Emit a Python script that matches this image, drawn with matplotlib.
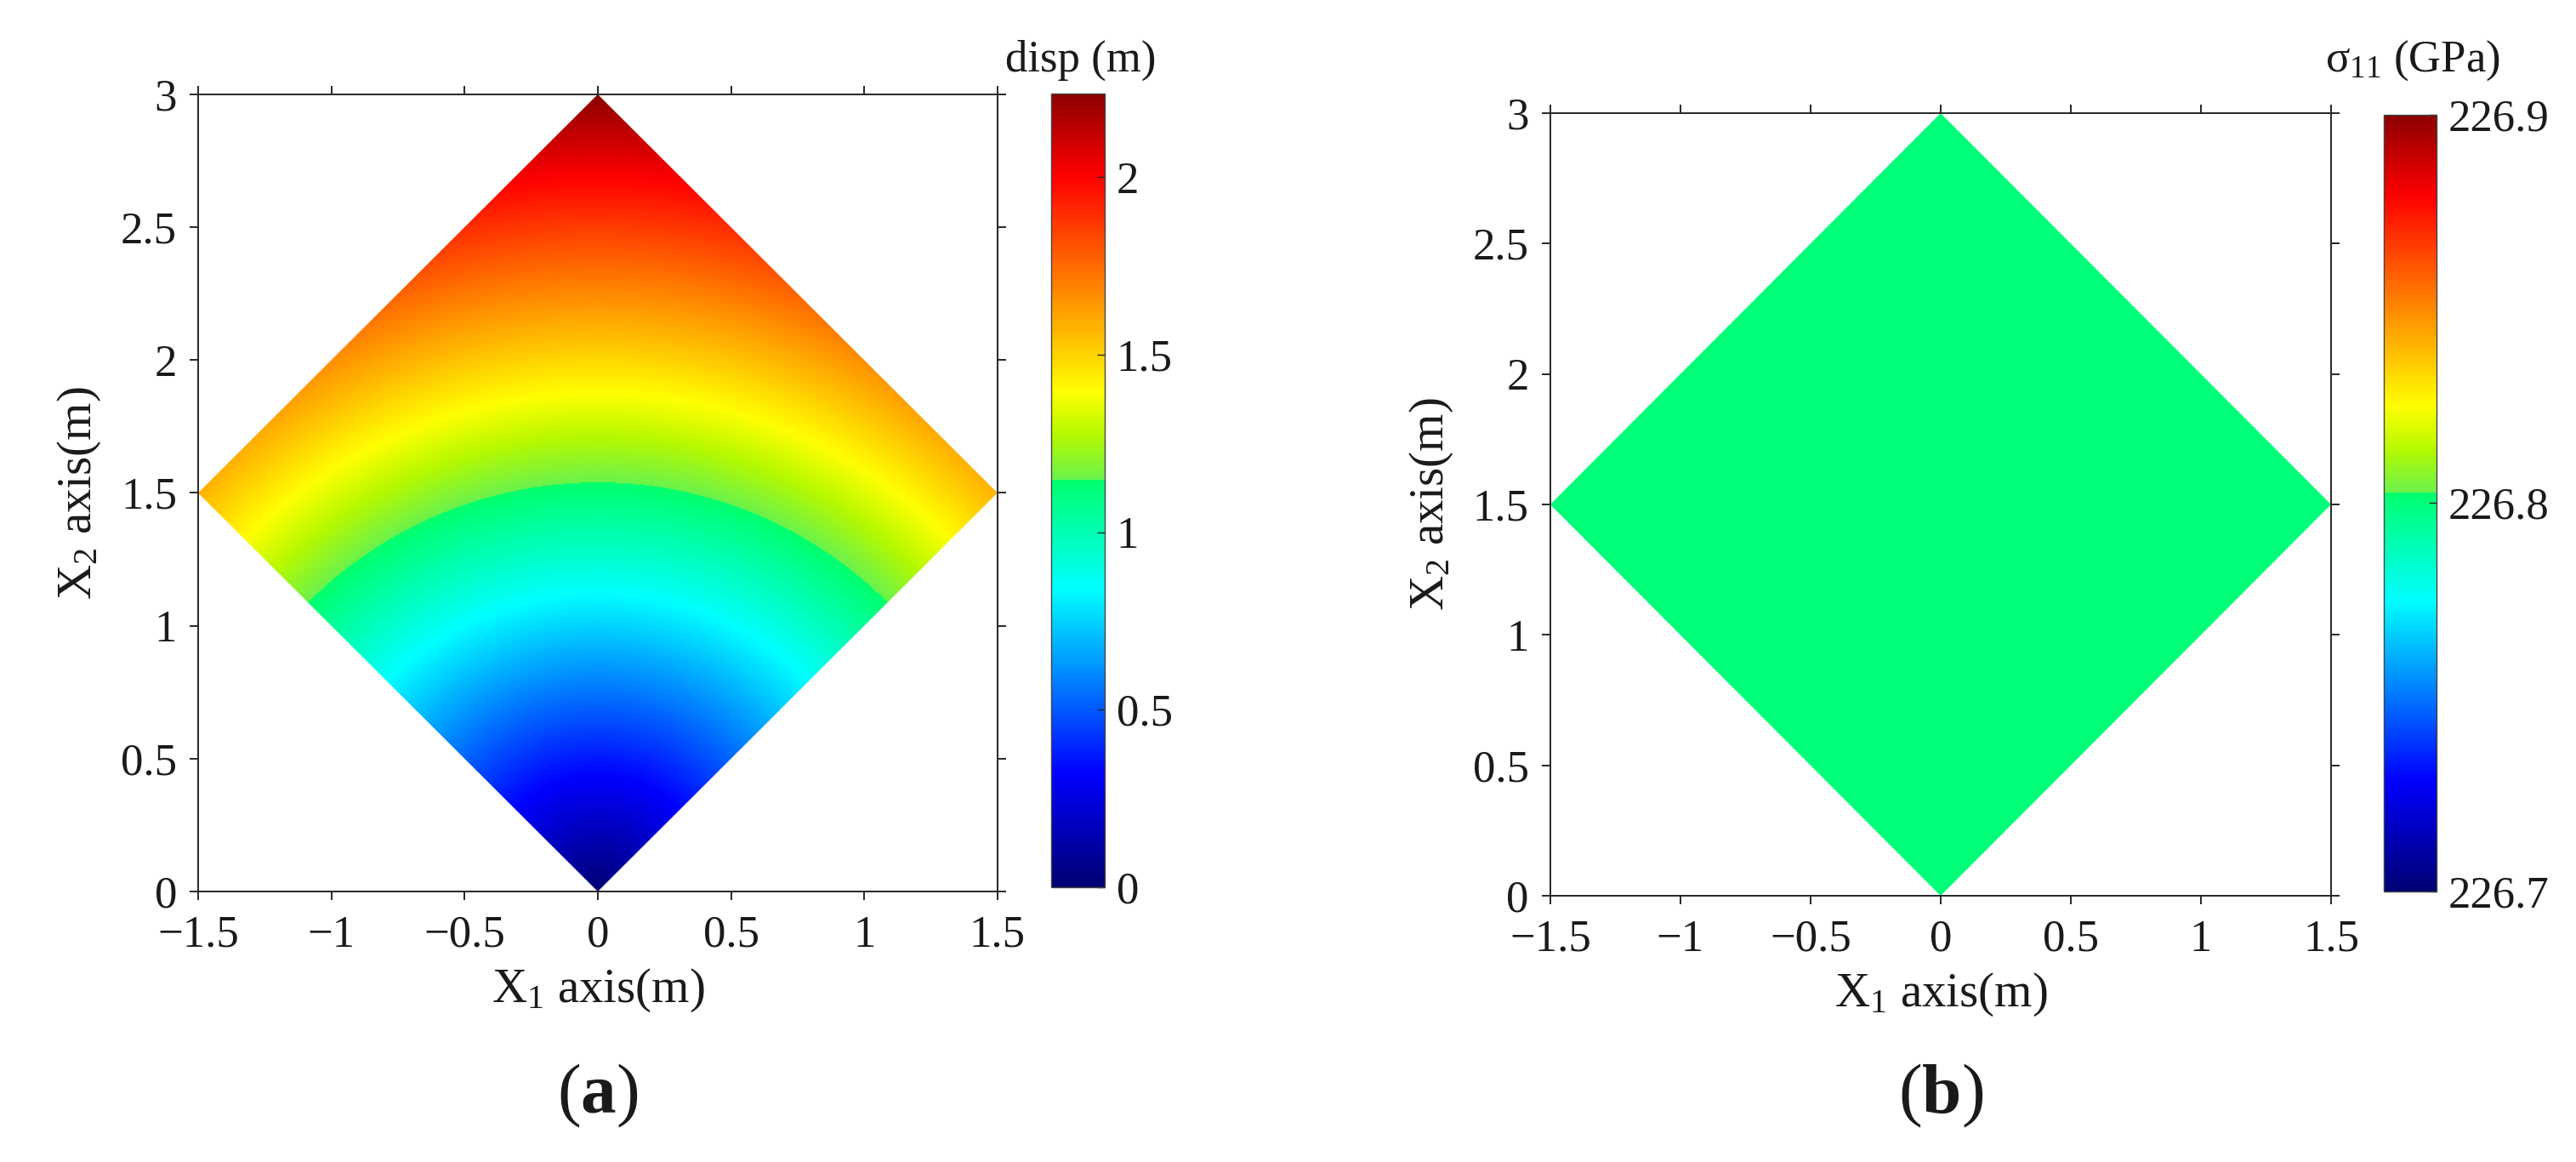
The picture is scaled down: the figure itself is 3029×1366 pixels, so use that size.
import numpy as np
import matplotlib
matplotlib.use('Agg')
from matplotlib import pyplot as plt
from matplotlib.colors import LinearSegmentedColormap, Normalize
from matplotlib.patches import Polygon
from matplotlib.ticker import FuncFormatter

plt.rcParams['font.family'] = ['Liberation Serif', 'DejaVu Serif']
plt.rcParams['mathtext.fontset'] = 'custom'
plt.rcParams['mathtext.rm'] = 'Liberation Serif'
plt.rcParams['mathtext.bf'] = 'Liberation Serif:bold'
plt.rcParams['mathtext.default'] = 'regular'

# plate outline (m)
plate_x = [0.0, 1.5, 0.0, -1.5]
plate_y = [0.0, 1.5, 3.0, 1.5]

# displacement read along the radius from the origin (bands are circular arcs)
radius_m = [0.0, 0.5, 1.0, 1.5, 2.0, 2.5, 3.0]
disp_m = [0.0, 0.37, 0.75, 1.12, 1.49, 1.86, 2.235]
disp_ticks = [0, 0.5, 1, 1.5, 2]

# uniform stress in panel (b)
sigma11_gpa = 226.8
sigma_range = [226.7, 226.9]
sigma_ticks = [226.7, 226.8, 226.9]

x_ticks = [-1.5, -1, -0.5, 0, 0.5, 1, 1.5]
y_ticks = [0, 0.5, 1, 1.5, 2, 2.5, 3]

# jet-like map with the jump just above the middle, as in the figure
cdict = {
    'red':   [(0.0, 0.0, 0.0), (0.514, 0.0, 0.42), (0.625, 1.0, 1.0),
              (0.896, 1.0, 1.0), (1.0, 0.55, 0.55)],
    'green': [(0.0, 0.0, 0.0), (0.143, 0.0, 0.0), (0.375, 1.0, 1.0),
              (0.514, 1.0, 0.95), (0.625, 1.0, 1.0), (0.896, 0.0, 0.0),
              (1.0, 0.0, 0.0)],
    'blue':  [(0.0, 0.45, 0.45), (0.143, 1.0, 1.0), (0.375, 1.0, 1.0),
              (0.514, 0.42, 0.3), (0.57, 0.0, 0.0), (1.0, 0.0, 0.0)],
}
cmap = LinearSegmentedColormap('fem_jet', cdict, N=512)

TICK_FS = 38
LABEL_FS = 41
LW = 1.4
DARK = '#262626'


def fmt(v, pos):
    return ('%g' % v).replace('-', '\u2212')


fig = plt.figure(figsize=(30.29, 13.66), dpi=100)

ax_a = fig.add_axes([0.0769, 0.2328, 0.3103, 0.686])
cax_a = fig.add_axes([0.408, 0.2365, 0.0208, 0.683])
ax_b = fig.add_axes([0.6018, 0.2291, 0.3031, 0.6735])
cax_b = fig.add_axes([0.9254, 0.2328, 0.0205, 0.6684])

gx = np.linspace(-1.5, 1.5, 700)
gy = np.linspace(0.0, 3.0, 700)
GX, GY = np.meshgrid(gx, gy)
R = np.hypot(GX, GY)
disp_field = np.interp(R, radius_m, disp_m)
sigma_field = np.full_like(GX, sigma11_gpa)

norm_a = Normalize(vmin=0.0, vmax=max(disp_m))
norm_b = Normalize(vmin=sigma_range[0], vmax=sigma_range[1])

panels = [
    (ax_a, cax_a, disp_field, norm_a, disp_ticks, 'disp (m)', 'a'),
    (ax_b, cax_b, sigma_field, norm_b, sigma_ticks, 'σ$_{11}$ (GPa)', 'b'),
]

for ax, cax, field, norm, cticks, ctitle, letter in panels:
    im = ax.imshow(field, extent=[-1.5, 1.5, 0, 3], origin='lower', cmap=cmap,
                   norm=norm, interpolation='bilinear', aspect='auto')
    outline = Polygon(list(zip(plate_x, plate_y)), closed=True,
                      transform=ax.transData, facecolor='none', edgecolor='none')
    ax.add_patch(outline)
    im.set_clip_path(outline)

    ax.set_xlim(-1.5, 1.5)
    ax.set_ylim(0, 3)
    ax.set_xticks(x_ticks)
    ax.set_yticks(y_ticks)
    ax.xaxis.set_major_formatter(FuncFormatter(fmt))
    ax.yaxis.set_major_formatter(FuncFormatter(fmt))
    ax.tick_params(direction='out', top=True, right=True, length=7, width=LW,
                   color=DARK, labelsize=TICK_FS, labelcolor='#1a1a1a')
    ax.tick_params(axis='x', pad=13)
    ax.tick_params(axis='y', pad=11)
    for sp in ax.spines.values():
        sp.set_linewidth(LW)
        sp.set_color(DARK)
    ax.set_xlabel('X$_1$ axis(m)', fontsize=LABEL_FS, labelpad=9, color='#1a1a1a')
    ax.set_ylabel('X$_2$ axis(m)', fontsize=LABEL_FS, labelpad=15, color='#1a1a1a')

    cb = fig.colorbar(im, cax=cax, ticks=cticks)
    cb.ax.yaxis.set_major_formatter(FuncFormatter(fmt))
    cb.ax.tick_params(direction='in', length=6.5, width=1.0, color=DARK,
                      labelsize=TICK_FS, pad=10, labelcolor='#1a1a1a')
    cb.outline.set_linewidth(1.0)
    cb.outline.set_edgecolor('#444444')

    bb = cax.get_position()
    fig.text((bb.x0 + bb.x1) / 2 + 0.001, 0.9385, ctitle, fontsize=38,
             ha='center', va='baseline', color='#1a1a1a')

    pb = ax.get_position()
    fig.text((pb.x0 + pb.x1) / 2, 0.057, '($\\mathbf{%s}$)' % letter,
             fontsize=60, ha='center', va='center', color='#1a1a1a')

fig.savefig('out.png', dpi=100)
